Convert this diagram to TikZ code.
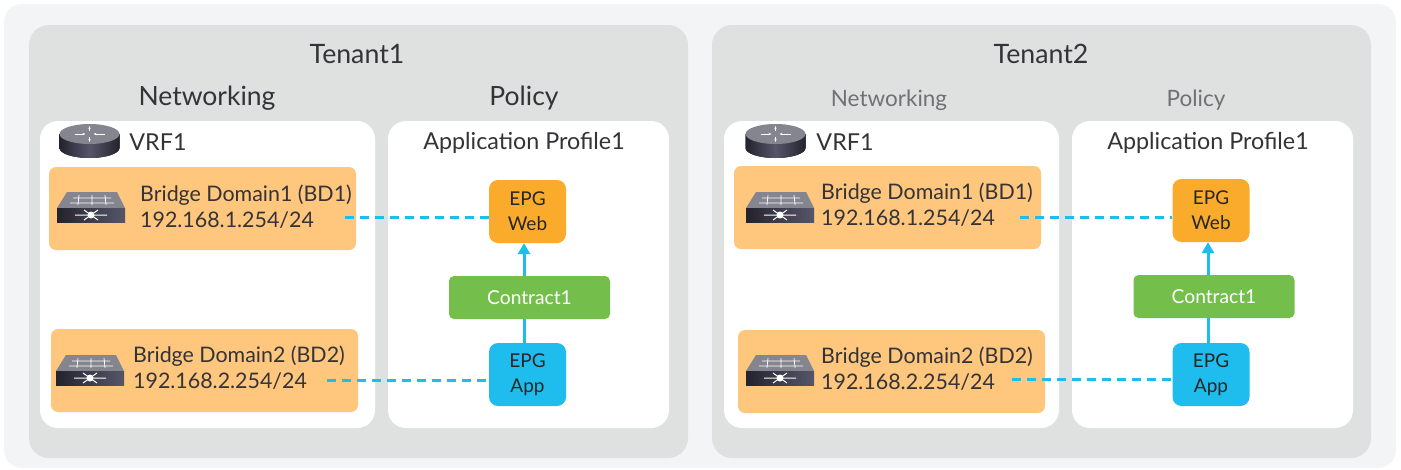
\documentclass[tikz,border=0pt]{standalone}
\usepackage{fontspec}
\setmainfont{Lato}
\usetikzlibrary{arrows.meta}
\usetikzlibrary{calc}
\definecolor{pagegray}{HTML}{F2F4F5}
\definecolor{panelgray}{HTML}{DFE1E1}
\definecolor{bdorange}{HTML}{FFC67D}
\definecolor{webamber}{HTML}{FBAB2C}
\definecolor{appblue}{HTML}{1FBDEE}
\definecolor{contractgreen}{HTML}{74BF4B}
\definecolor{inkgray}{HTML}{333338}
\definecolor{softgray}{HTML}{6E7275}
\definecolor{icontop}{HTML}{84858F}
\definecolor{icondark}{HTML}{23232E}
\definecolor{iconmid}{HTML}{56566A}
\tikzset{
	routericon/.pic={
		\fill[left color=icondark, right color=icondark, middle color=iconmid] (-30,-7) -- (-30,7) arc[start angle=180, end angle=0, x radius=30, y radius=10] -- (30,-7) -- cycle;
		\fill[icontop] (0,-7) ellipse[x radius=30, y radius=10];
		\draw[white, line width=0.8pt, -{Stealth[length=3pt]}] (-15,-7) -- (-4,-7);
		\draw[white, line width=0.8pt, -{Stealth[length=3pt]}] (15,-7) -- (4,-7);
		\draw[white, line width=0.8pt, -{Stealth[length=3pt]}] (0,-10) -- (0,-15);
		\draw[white, line width=0.8pt, -{Stealth[length=3pt]}] (0,-4) -- (0,1);
	},
	switchicon/.pic={
		\fill[icontop] (-24,-15) -- (26,-15) -- (34,1) -- (-34,1) -- cycle;
		\fill[left color=icondark, right color=iconmid] (-34,1) rectangle (34,15);
		\draw[white, line width=0.7pt] (-18,-9) -- (20,-9) (-21,-4) -- (23,-4)
			(-12,-12) -- (-13,-2) (1,-12) -- (1,-2) (14,-12) -- (15,-2);
		\draw[white, line width=1pt] (-16,8) -- (16,8) (-7,3) -- (7,13) (-7,13) -- (7,3);
		\fill[white] (0,8) circle (3.5);
	},
}
\begin{document}
\begin{tikzpicture}[x=1pt, y=-1pt,
	panel/.style={fill=panelgray, rounded corners=20pt},
	whitebox/.style={fill=white, rounded corners=18pt},
	bdbox/.style={fill=bdorange, rounded corners=7pt},
	epg/.style={rounded corners=9pt, minimum width=77pt, minimum height=63pt, inner sep=0pt, align=center, text=black!85, font=\fontsize{19}{25}\selectfont},
	epgweb/.style={epg, fill=webamber},
	epgapp/.style={epg, fill=appblue},
	contract/.style={fill=contractgreen, rounded corners=5pt, minimum width=161pt, minimum height=43pt, inner sep=0pt, text=white, font=\fontsize{19.2}{22}\selectfont},
	tenantlabel/.style={text=inkgray, inner sep=0pt, font=\fontsize{26.7}{30}\selectfont},
	headlabel/.style={text=inkgray, inner sep=0pt, font=\fontsize{26.5}{30}\selectfont},
	softlabel/.style={text=softgray, inner sep=0pt, font=\fontsize{22.5}{26}\selectfont},
	proflabel/.style={text=inkgray, inner sep=0pt, font=\fontsize{23.3}{26}\selectfont},
	bdlabel/.style={text=inkgray, inner sep=0pt, anchor=west, align=left, font=\fontsize{21.4}{26}\selectfont},
	contractline/.style={draw=appblue, line width=3pt},
	dashline/.style={draw=appblue, line width=3pt, dash pattern=on 9pt off 6pt},
	]
	\useasboundingbox (0,0) rectangle (1401,469);
	\fill[pagegray, rounded corners=18pt] (4,4) rectangle (1396,468);
	\fill[panel] (29,25) rectangle (688,458);
	\fill[panel] (712,25) rectangle (1371,458);
	\fill[whitebox] (40,121) rectangle (375,428);
	\fill[whitebox] (388,121) rectangle (669,428);
	\fill[whitebox] (724,121) rectangle (1059,428);
	\fill[whitebox] (1072,121) rectangle (1353,428);
	\fill[bdbox] (49,167) rectangle (356,250);
	\fill[bdbox] (51,329) rectangle (358,412);
	\fill[bdbox] (734,166) rectangle (1041,249);
	\fill[bdbox] (738,330) rectangle (1045,413);

	\node[tenantlabel] (tenant1) at (357,54) {Tenant1};
	\node[tenantlabel] (tenant2) at (1041,54) {Tenant2};
	\node[headlabel] (net1) at (207,98) {Networking};
	\node[headlabel] (pol1) at (524,98) {Policy};
	\node[softlabel] (net2) at (889,100) {Networking};
	\node[softlabel] (pol2) at (1196,100) {Policy};
	\node[proflabel] (prof1) at (524,143) {Application Profile1};
	\node[proflabel] (prof2) at (1208,143) {Application Profile1};
	\node[proflabel] (vrf1) at (158,142) {VRF1};
	\node[proflabel] (vrf2) at (845,142) {VRF1};

	\pic at (89.5,141) {routericon};
	\pic at (775.5,141) {routericon};
	\pic at (91,207) {switchicon};
	\pic at (90,370) {switchicon};
	\pic at (780,207) {switchicon};
	\pic at (780,370) {switchicon};

	\node[bdlabel] (bd1) at (140,207) {Bridge Domain1 (BD1)\\192.168.1.254/24};
	\node[bdlabel] (bd2) at (133,368) {Bridge Domain2 (BD2)\\192.168.2.254/24};
	\node[bdlabel] (bd3) at (821,205) {Bridge Domain1 (BD1)\\192.168.1.254/24};
	\node[bdlabel] (bd4) at (821,369) {Bridge Domain2 (BD2)\\192.168.2.254/24};

	\node[epgweb] (web1) at (527.5,211.5) {EPG\\Web};
	\node[epgapp] (app1) at (527.5,374.5) {EPG\\App};
	\node[contract] (con1) at (529.5,297.5) {Contract1};
	\node[epgweb] (web2) at (1211,210.5) {EPG\\Web};
	\node[epgapp] (app2) at (1211,374.5) {EPG\\App};
	\node[contract] (con2) at (1214,296.5) {Contract1};

	\coordinate (dash1) at (345,217);
	\coordinate (dash2) at (327,380);
	\coordinate (dash3) at (1020,217);
	\coordinate (dash4) at (1012,379);
	\draw[dashline] (dash1) -- (dash1 -| web1.west);
	\draw[dashline] (dash2) -- (dash2 -| app1.west);
	\draw[dashline] (dash3) -- (dash3 -| web2.west);
	\draw[dashline] (dash4) -- (dash4 -| app2.west);

	\draw[contractline] (app1.north -| 524,0) -- (con1.south -| 524,0);
	\draw[contractline, -{Triangle[length=11pt, width=12pt]}] (con1.north -| 524,0) -- (web1.south -| 524,0);
	\draw[contractline] (app2.north -| 1208,0) -- (con2.south -| 1208,0);
	\draw[contractline, -{Triangle[length=11pt, width=12pt]}] (con2.north -| 1208,0) -- (web2.south -| 1208,0);
\end{tikzpicture}
\end{document}
